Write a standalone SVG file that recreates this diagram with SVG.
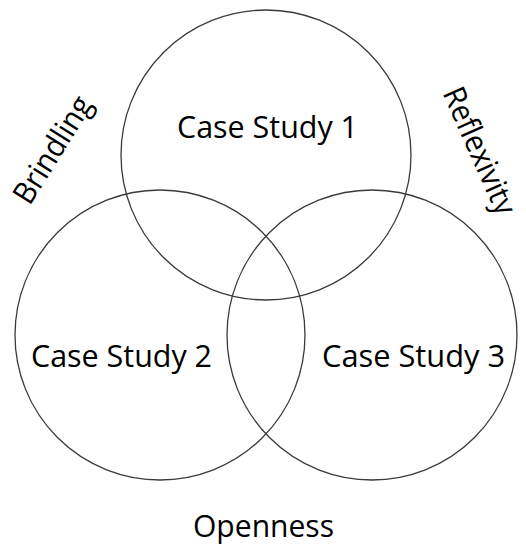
<svg xmlns="http://www.w3.org/2000/svg" width="526" height="548" viewBox="0 0 526 548">
  <style>
    .c { fill: none; stroke: #3a3a3a; stroke-width: 1.3; }
    .t { font-family: "Open Sans", "Liberation Sans", sans-serif; font-size: 31px; fill: #000; }
  </style>
  <rect x="0" y="0" width="526" height="548" fill="#fff"/>
  <g id="case-study-1">
    <circle class="c" cx="266" cy="155" r="145"/>
    <text class="t" x="177" y="138" textLength="181" lengthAdjust="spacingAndGlyphs">Case Study 1</text>
  </g>
  <g id="case-study-2">
    <circle class="c" cx="160" cy="335" r="145"/>
    <text class="t" x="31" y="367" textLength="181" lengthAdjust="spacingAndGlyphs">Case Study 2</text>
  </g>
  <g id="case-study-3">
    <circle class="c" cx="372" cy="335" r="145"/>
    <text class="t" x="322" y="367" textLength="183" lengthAdjust="spacingAndGlyphs">Case Study 3</text>
  </g>
  <g id="brindling">
    <text class="t" transform="translate(53,150) rotate(-58)" x="0" y="10" text-anchor="middle" textLength="120" lengthAdjust="spacingAndGlyphs">Brindling</text>
  </g>
  <g id="reflexivity">
    <text class="t" transform="translate(479,151) rotate(66)" x="0" y="10" text-anchor="middle" textLength="136" lengthAdjust="spacingAndGlyphs">Reflexivity</text>
  </g>
  <g id="openness">
    <text class="t" x="193" y="537" textLength="141" lengthAdjust="spacingAndGlyphs">Openness</text>
  </g>
  <g id="connectors"></g>
</svg>
